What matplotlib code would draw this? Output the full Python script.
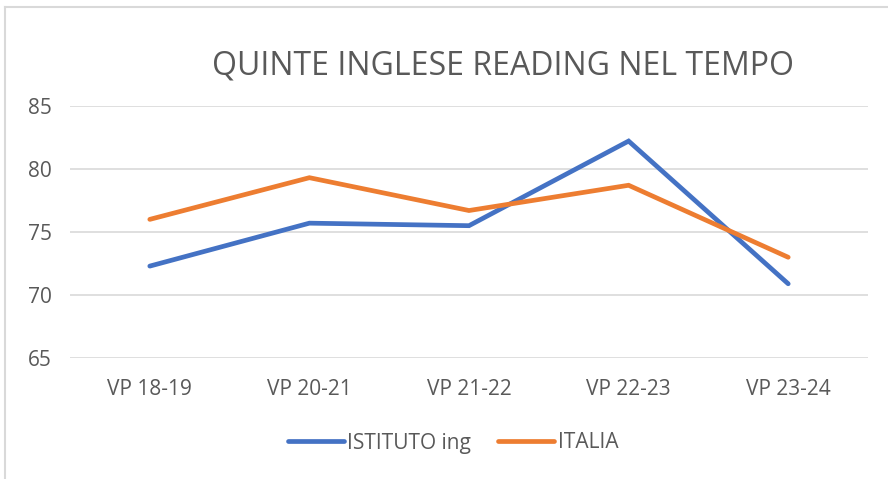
import matplotlib
matplotlib.use("Agg")
import matplotlib.pyplot as plt
from matplotlib.lines import Line2D

# data
periodi = ['VP 18-19', 'VP 20-21', 'VP 21-22', 'VP 22-23', 'VP 23-24']
istituto = [72.3, 75.7, 75.5, 82.2, 70.9]
italia = [76.0, 79.3, 76.7, 78.7, 73.0]

plt.rcParams['font.family'] = ['Open Sans', 'DejaVu Sans']
grigio = '#595959'

fig = plt.figure(figsize=(8.88, 4.79), dpi=100)
ax = fig.add_axes([70/888, 1 - 358.3/479, 798/888, 252.6/479])

x = range(len(periodi))
ax.plot(x, istituto, color='#4472C4', lw=3.4, solid_capstyle='round',
        solid_joinstyle='miter', label='ISTITUTO ing')
ax.plot(x, italia, color='#ED7D31', lw=3.4, solid_capstyle='round',
        solid_joinstyle='miter', label='ITALIA')

ax.set_xlim(-0.5, len(periodi) - 0.5)
ax.set_ylim(65, 85)
ax.set_yticks([65, 70, 75, 80, 85])
ax.set_xticks(list(x))
ax.set_xticklabels(periodi)
ax.grid(axis='y', color='#D9D9D9', lw=1.2)
ax.set_axisbelow(True)
for s in ax.spines.values():
    s.set_visible(False)
ax.tick_params(length=0, colors=grigio, labelsize=15)
ax.tick_params(axis='y', pad=13)
ax.tick_params(axis='x', pad=15)

# title
fig.text(503/888, 1 - 66/479, 'QUINTE INGLESE READING NEL TEMPO',
         ha='center', va='center', fontsize=23, color=grigio)

# legend
leg = fig.legend(loc='center', bbox_to_anchor=(453/888, 1 - 443/479),
                 ncol=2, frameon=False, fontsize=15, handlelength=2.7,
                 handletextpad=0.15, columnspacing=1.3)
for t in leg.get_texts():
    t.set_color(grigio)

# outer chart frame (cropped on right and bottom)
fig.add_artist(Line2D([5/888, 5/888], [0, 1 - 7/479], transform=fig.transFigure,
                      color='#D9D9D9', lw=1.5))
fig.add_artist(Line2D([5/888, 1], [1 - 7/479, 1 - 7/479], transform=fig.transFigure,
                      color='#D9D9D9', lw=1.5))

fig.savefig('out.png', dpi=100)
